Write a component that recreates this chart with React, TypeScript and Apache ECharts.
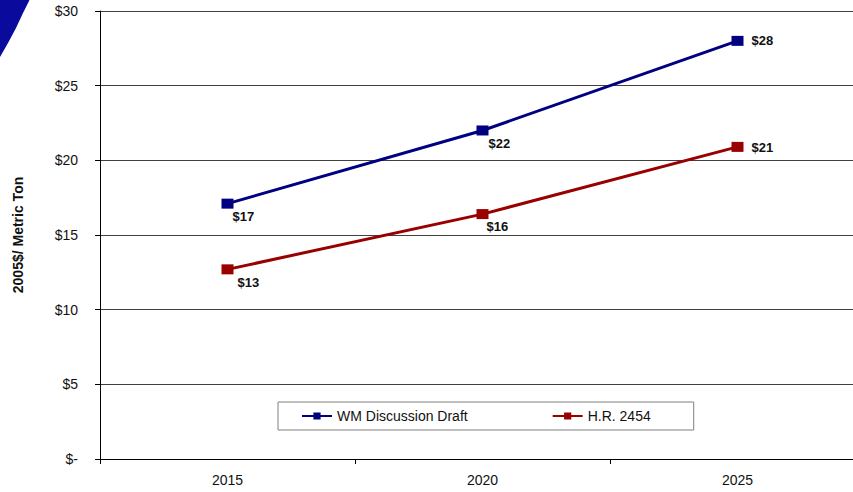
import React, { useEffect, useRef } from "react";
import * as echarts from "echarts";

const years = ["2015", "2020", "2025"];
const wmDraft = [17.1, 22.0, 28.0];
const hr2454 = [12.7, 16.4, 20.9];
const wmLabels = ["$17", "$22", "$28"];
const hrLabels = ["$13", "$16", "$21"];
const yTickLabels: Record<number, string> = { 0: "$-", 5: "$5", 10: "$10", 15: "$15", 20: "$20", 25: "$25", 30: "$30" };

const BLUE = "#000080";
const RED = "#990000";
const FONT = "'Liberation Sans', Arial, sans-serif";

const wmOffsets = [[-3, 13], [-2, 13], [6, 0]];
const hrOffsets = [[2, 13], [-4, 12], [6, 1]];

export default function App() {
  const ref = useRef<HTMLDivElement>(null);
  useEffect(() => {
    if (!ref.current) return;
    const chart = echarts.init(ref.current, null, { renderer: "svg" });
    const mk = (vals: number[], labels: string[], offs: number[][]) =>
      vals.map((v, i) => ({
        value: v,
        label: {
          show: true,
          position: "right",
          distance: 2,
          offset: offs[i],
          formatter: labels[i],
          fontFamily: FONT,
          fontWeight: "bold",
          fontSize: 13,
          color: "#111",
        },
      }));
    chart.setOption({
      animation: false,
      backgroundColor: "#fff",
      textStyle: { fontFamily: FONT },
      grid: { left: 100, top: 11, width: 765, height: 448, outerBoundsMode: "none" },
      graphic: [
        {
          type: "polygon",
          shape: { points: [[0, 0], [29.5, 0], [23, 13], [16, 28], [8, 43], [0, 57]] },
          style: { fill: "#0A0A9C" },
        },
      ],
      legend: {
        left: 278,
        top: 402,
        padding: [7, 43, 7, 23],
        borderColor: "#808080",
        borderWidth: 1,
        itemWidth: 30,
        itemHeight: 9,
        itemGap: 84,
        textStyle: { fontFamily: FONT, fontSize: 14, color: "#111" },
        data: ["WM Discussion Draft", "H.R. 2454"],
      },
      xAxis: {
        type: "category",
        data: years,
        boundaryGap: true,
        axisLine: { lineStyle: { color: "#000", width: 1 } },
        axisTick: { show: true, length: 5, lineStyle: { color: "#000" } },
        axisLabel: { fontFamily: FONT, fontSize: 14, color: "#111", margin: 14 },
        splitLine: { show: false },
      },
      yAxis: {
        type: "value",
        min: 0,
        max: 30,
        interval: 5,
        name: "2005$/ Metric Ton",
        nameLocation: "middle",
        nameGap: 75,
        nameTextStyle: { fontFamily: FONT, fontSize: 14, fontWeight: "bold", color: "#111" },
        axisLine: { show: true, lineStyle: { color: "#000", width: 1 } },
        axisTick: { show: true, length: 5, lineStyle: { color: "#000" } },
        axisLabel: {
          fontFamily: FONT,
          fontSize: 14,
          color: "#111",
          margin: 22,
          formatter: (v: number) => yTickLabels[v] ?? "",
        },
        splitLine: { show: true, lineStyle: { color: "#404040", width: 1 } },
      },
      series: [
        {
          name: "WM Discussion Draft",
          type: "line",
          data: mk(wmDraft, wmLabels, wmOffsets),
          symbol: "rect",
          symbolSize: [12, 10],
          lineStyle: { color: BLUE, width: 3 },
          itemStyle: { color: BLUE },
        },
        {
          name: "H.R. 2454",
          type: "line",
          data: mk(hr2454, hrLabels, hrOffsets),
          symbol: "rect",
          symbolSize: [12, 10],
          lineStyle: { color: RED, width: 3 },
          itemStyle: { color: RED },
        },
      ],
    });
    return () => chart.dispose();
  }, []);
  return (
    <div
      ref={ref}
      style={{ position: "fixed", left: 0, top: 0, width: 853, height: 492 }}
    />
  );
}
